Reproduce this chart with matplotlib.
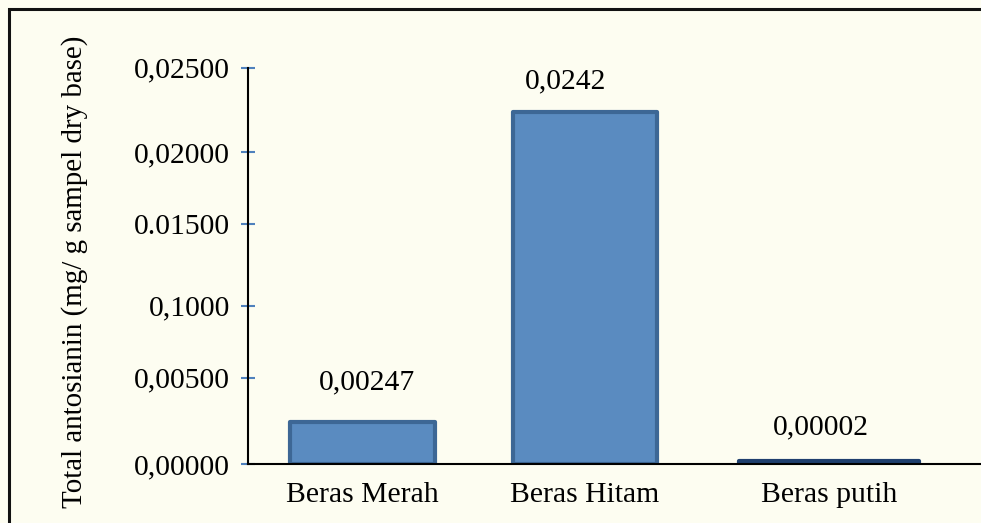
import matplotlib
matplotlib.use("Agg")
import matplotlib.pyplot as plt
from matplotlib.patches import Rectangle

# ---- data ----
categories = ["Beras Merah", "Beras Hitam", "Beras putih"]
bar_values = [0.00268, 0.02220, 0.00020]
value_labels = ["0,00247", "0,0242", "0,00002"]
ytick_values = [0.0, 0.00546, 0.0100, 0.01517, 0.01969, 0.025]
ytick_labels = ["0,00000", "0,00500", "0,1000", "0.01500", "0,02000", "0,02500"]
ylabel = "Total antosianin (mg/ g sampel dry base)"

# ---- style / layout ----
W, H = 981, 523
bg = "#fdfdf1"
fill_colors = ["#5a8bc0", "#5a8bc0", "#1f3f6e"]
edge_colors = ["#3d6795", "#3d6795", "#1f3f6e"]
x_pos = [0, 0.954, 2.0]
bar_widths = [0.62, 0.62, 0.77]
label_dx_px = [4.5, -19, -8]
label_dy_px = [32, 24, 27]
fs = 21.3

plt.rcParams["font.family"] = ["Liberation Serif", "DejaVu Serif"]
fig = plt.figure(figsize=(W / 100, H / 100), dpi=100, facecolor=bg)

ax_left, ax_right = 248 / W, 1.0
ax_bottom, ax_top = (H - 464.3) / H, (H - 67.7) / H
ax = fig.add_axes([ax_left, ax_bottom, ax_right - ax_left, ax_top - ax_bottom])
ax.set_facecolor("none")

for i in range(len(categories)):
    ax.bar(x_pos[i], bar_values[i], width=bar_widths[i], color=fill_colors[i],
           edgecolor=edge_colors[i], linewidth=3, joinstyle="round", zorder=2)
    ax.annotate(value_labels[i], xy=(x_pos[i], bar_values[i]),
                xytext=(label_dx_px[i] * 0.72, label_dy_px[i] * 0.72),
                textcoords="offset points", ha="center", va="baseline",
                fontsize=fs, color="black")

ax.set_xlim(-0.491, 2.652)
ax.set_ylim(0, 0.025)
ax.set_xticks(x_pos)
ax.set_xticklabels(categories, fontsize=fs)
ax.tick_params(axis="x", length=0, pad=13)
ax.set_yticks(ytick_values)
ax.set_yticklabels(ytick_labels, fontsize=fs)
ax.tick_params(axis="y", direction="inout", length=10, width=1.5,
               color="#4f81bd", pad=8)

for s in ["top", "right"]:
    ax.spines[s].set_visible(False)
ax.spines["left"].set_linewidth(1.5)
ax.spines["bottom"].set_linewidth(1.5)
ax.spines["left"].set_color("black")
ax.spines["bottom"].set_color("black")

fig.text(75 / W, 0.5 - (272 - 261.5) / H, ylabel, rotation=90,
         ha="center", va="center", fontsize=20.9, color="black")

# outer frame (partly cut off on the right and bottom)
fig.patches.append(Rectangle((9 / W, -0.1), 1.2, (H - 9) / H + 0.1,
                             transform=fig.transFigure, fill=False,
                             edgecolor="#111111", linewidth=2.2))

fig.savefig("out.png", dpi=100, facecolor=bg)
